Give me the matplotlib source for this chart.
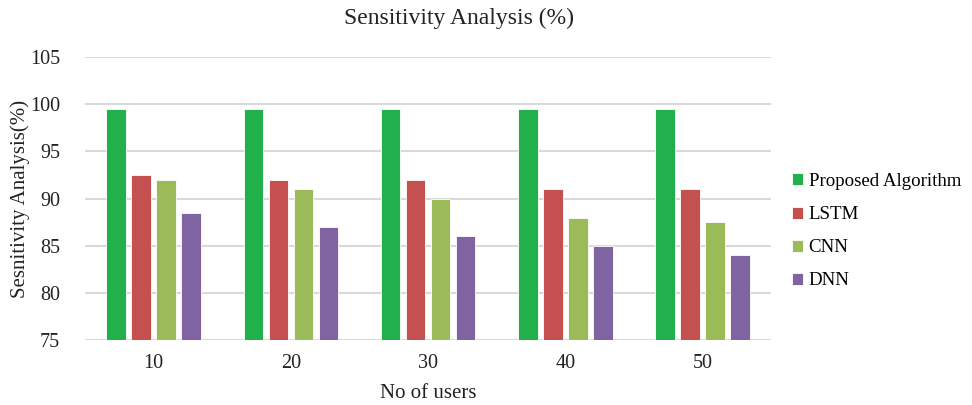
import numpy as np
import matplotlib

matplotlib.use("Agg")
import matplotlib.pyplot as plt

users = ["10", "20", "30", "40", "50"]
proposed = [99.5, 99.5, 99.45, 99.45, 99.5]
lstm = [92.5, 92.0, 92.0, 91.0, 91.0]
cnn = [92.0, 91.0, 90.0, 88.0, 87.5]
dnn = [88.5, 87.0, 86.0, 85.0, 84.0]

series = [
    ("Proposed Algorithm", proposed, "#21b04b"),
    ("LSTM", lstm, "#c4504f"),
    ("CNN", cnn, "#9bbb58"),
    ("DNN", dnn, "#8064a2"),
]

plt.rcParams["font.family"] = ["Liberation Serif", "DejaVu Serif"]

fig = plt.figure(figsize=(9.72, 4.05), dpi=100)
ax = fig.add_axes([0.0875, 0.160, 0.706, 0.699])

x = np.arange(len(users))
width = 0.142
step = 0.182
for i, (name, vals, color) in enumerate(series):
    ax.bar(x + (i - 1.5) * step, np.array(vals) - 75, bottom=75, width=width,
           color=color, edgecolor="white", linewidth=0.6, label=name, zorder=3)

ax.set_ylim(75, 105)
ax.set_yticks(range(75, 106, 5))
ax.set_xlim(-0.5, len(users) - 0.5)
ax.set_xticks(x)
ax.set_xticklabels(users)
ax.grid(axis="y", color="#d9d9d9", linewidth=1.5, zorder=0)
for s in ax.spines.values():
    s.set_visible(False)
ax.tick_params(length=0, labelsize=14.5, colors="#222222")
ax.tick_params(axis="x", pad=10)
ax.tick_params(axis="y", pad=18)

# title is centred over the whole chart area (incl. legend), like Excel
fig.text(0.472, 0.955, "Sensitivity Analysis (%)", fontsize=17, color="#222222",
         ha="center", va="center")
ax.set_xlabel("No of users", fontsize=15, color="#222222", labelpad=8)
ax.set_ylabel("Sesnitivity Analysis(%)", fontsize=15, color="#222222", labelpad=0)

ax.legend(loc="center left", bbox_to_anchor=(1.005, 0.385), frameon=False,
          fontsize=13.6, handlelength=0.6, handleheight=0.6, handletextpad=0.3,
          labelspacing=0.85)

fig.savefig("out.png", dpi=100)
